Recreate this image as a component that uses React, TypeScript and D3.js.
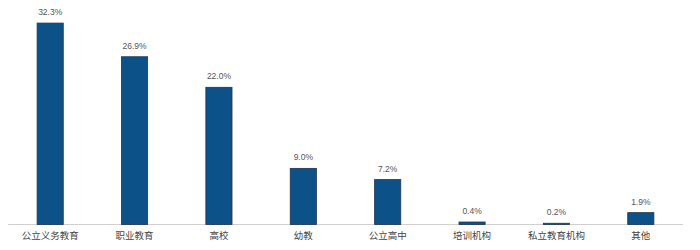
import React from "react";
import * as d3 from "d3";

const categories = ["公立义务教育", "职业教育", "高校", "幼教", "公立高中", "培训机构", "私立教育机构", "其他"];
const values = [32.3, 26.9, 22.0, 9.0, 7.2, 0.4, 0.2, 1.9];
const valueLabels = ["32.3%", "26.9%", "22.0%", "9.0%", "7.2%", "0.4%", "0.2%", "1.9%"];

const W = 700;
const H = 250;
const left = 8;
const right = 683;
const baseline = 224.5;

export default function App() {
  const x = d3.scaleBand<string>().domain(categories).range([left, right]).paddingInner(0.69).paddingOuter(0.345);
  const y = d3.scaleLinear().domain([0, 36]).range([baseline, 0]);
  const bw = x.bandwidth();
  return (
    <svg width={W} height={H} style={{ position: "absolute", left: 0, top: 0, background: "#fff" }}
      fontFamily="'Liberation Sans', Arial, sans-serif">
      <line x1={left} x2={right} y1={baseline} y2={baseline} stroke="#d0d0d0" strokeWidth={1} />
      {categories.map((c, i) => {
        const bx = x(c)!;
        const by = y(values[i]);
        return (
          <g key={c}>
            <rect x={bx} y={by} width={bw} height={baseline - by} fill="#0d5189" stroke="#1d3550" strokeWidth={0.8} />
            <text x={bx + bw / 2} y={by - 8} textAnchor="middle" fontSize={8.5} fill="#555">{valueLabels[i]}</text>
            <text x={bx + bw / 2} y={239} textAnchor="middle" fontSize={9.5} fill="#444"
              fontFamily="'Noto Sans CJK SC', sans-serif">{c}</text>
          </g>
        );
      })}
    </svg>
  );
}
